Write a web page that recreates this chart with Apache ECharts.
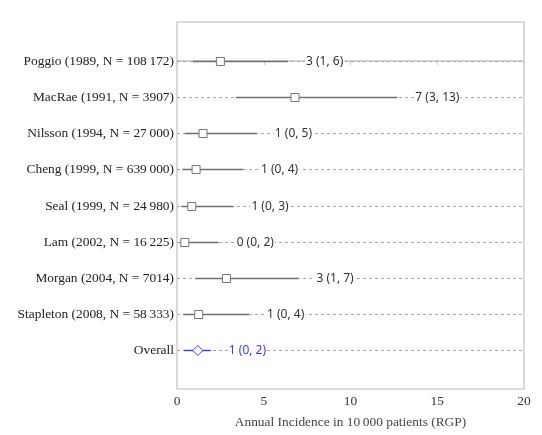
<!DOCTYPE html>
<html>
<head>
<meta charset="utf-8">
<script src="https://cdn.jsdelivr.net/npm/echarts@6/dist/echarts.min.js"></script>
<style>
  html, body { margin: 0; padding: 0; background: #fff; }
  #chart { width: 542px; height: 435px; }
</style>
</head>
<body>
<div id="chart"></div>
<script>
// study labels, top to bottom
const studies = [
  'Poggio (1989, N = 108\u2009172)',
  'MacRae (1991, N = 3907)',
  'Nilsson (1994, N = 27\u2009000)',
  'Cheng (1999, N = 639\u2009000)',
  'Seal (1999, N = 24\u2009980)',
  'Lam (2002, N = 16\u2009225)',
  'Morgan (2004, N = 7014)',
  'Stapleton (2008, N = 58\u2009333)',
  'Overall'
]
const estimates = [2.5, 6.8, 1.5, 1.1, 0.85, 0.45, 2.85, 1.25, 1.2]
const lower = [0.9, 3.4, 0.45, 0.3, 0.25, 0.15, 1.05, 0.35, 0.4]
const upper = [6.4, 12.7, 4.6, 3.8, 3.25, 2.4, 7.0, 4.15, 1.95]
const ciLabels = ['3 (1, 6)', '7 (3, 13)', '1 (0, 5)', '1 (0, 4)', '1 (0, 3)', '0 (0, 2)', '3 (1, 7)', '1 (0, 4)', '1 (0, 2)']
const xTicks = [0, 5, 10, 15, 20]

const GREY = '#6f6f6f'
const BLUE = '#3b3bf0'

const rows = studies.map((s, i) => [i, estimates[i], lower[i], upper[i]])

function renderRow (params, api) {
  const i = api.value(0)
  const overall = studies[i] === 'Overall'
  const color = overall ? BLUE : GREY
  const left = api.coord([xTicks[0], i])
  const right = api.coord([xTicks[xTicks.length - 1], i])
  const lo = api.coord([api.value(2), i])
  const hi = api.coord([api.value(3), i])
  const est = api.coord([api.value(1), i])
  const y = Math.round(left[1]) + 0.5
  const children = [
    // dotted guide line
    { type: 'line', shape: { x1: left[0], y1: y, x2: right[0], y2: y },
      style: { stroke: '#a8a8a8', lineWidth: 1, lineDash: [3, 3] } },
    // confidence interval
    { type: 'line', shape: { x1: lo[0], y1: y, x2: hi[0], y2: y },
      style: { stroke: color, lineWidth: 1.4 } },
    // estimate text
    { type: 'text', x: hi[0] + 17, y: y,
      style: { text: ciLabels[i], fill: overall ? BLUE : '#333',
        font: '12px "Noto Sans", sans-serif', align: 'left', verticalAlign: 'middle',
        backgroundColor: '#fff', padding: [0, 1] } },
    // study label
    { type: 'text', x: left[0] - 3, y: y,
      style: { text: studies[i], fill: '#222',
        font: '13.4px "Liberation Serif", serif', align: 'right', verticalAlign: 'middle' } }
  ]
  if (overall) {
    children.push({ type: 'polygon',
      shape: { points: [[est[0] - 5, y], [est[0], y - 5], [est[0] + 5, y], [est[0], y + 5]] },
      style: { fill: '#fff', stroke: BLUE, lineWidth: 1 } })
  } else {
    children.push({ type: 'rect',
      shape: { x: est[0] - 4, y: y - 4, width: 8, height: 8 },
      style: { fill: '#fff', stroke: '#777', lineWidth: 1 } })
  }
  return { type: 'group', children: children }
}

const chart = echarts.init(document.getElementById('chart'))
chart.setOption({
  backgroundColor: '#fff',
  animation: false,
  grid: {
    left: 177, right: 18, top: 22, bottom: 46,
    show: true, borderColor: '#d0d0d0', borderWidth: 1.5, backgroundColor: '#fff'
  },
  xAxis: {
    type: 'value',
    min: xTicks[0],
    max: xTicks[xTicks.length - 1],
    interval: 5,
    name: 'Annual Incidence in 10\u2009000 patients (RGP)',
    nameLocation: 'middle',
    nameGap: 27,
    nameTextStyle: { fontFamily: 'Liberation Serif', fontSize: 13.4, color: '#444' },
    axisLine: { show: true, lineStyle: { color: '#c8c8c8', width: 1.5 } },
    axisTick: { show: true, length: 4, lineStyle: { color: '#c8c8c8' } },
    axisLabel: { fontFamily: 'Liberation Serif', fontSize: 13.4, color: '#333', margin: 6 },
    splitLine: { show: false }
  },
  yAxis: {
    type: 'value',
    min: -1.08,
    max: 9.08,
    inverse: true,
    show: false
  },
  series: [{
    type: 'custom',
    clip: false,
    renderItem: renderRow,
    encode: { x: [1, 2, 3], y: 0 },
    data: rows
  }]
})
</script>
</body>
</html>
